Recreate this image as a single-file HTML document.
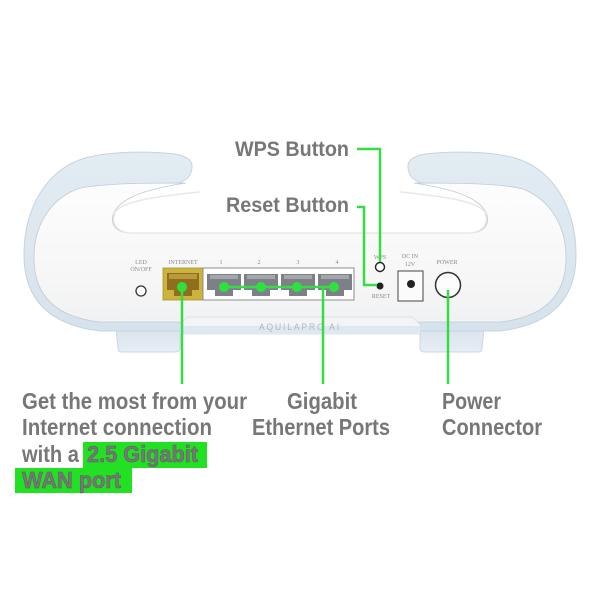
<!DOCTYPE html>
<html>
<head>
<meta charset="utf-8">
<style>
  html,body{margin:0;padding:0;background:#fff;}
  svg{display:block;}
  .lbl{font-family:"Liberation Sans",sans-serif;font-weight:bold;fill:#777;}
  .tiny{font-family:"Liberation Serif",serif;font-size:6px;fill:#8a8a8a;text-anchor:middle;}
</style>
</head>
<body>
<svg width="600" height="600" viewBox="0 0 600 600" xmlns="http://www.w3.org/2000/svg">
  <defs>
    <linearGradient id="face" x1="0" y1="0" x2="0" y2="1">
      <stop offset="0" stop-color="#fdfdfd"/>
      <stop offset="0.6" stop-color="#f7f7f7"/>
      <stop offset="1" stop-color="#f1f2f3"/>
    </linearGradient>
    <linearGradient id="blue" x1="0" y1="0" x2="0" y2="1">
      <stop offset="0" stop-color="#e3ecf3"/>
      <stop offset="1" stop-color="#d6e2ec"/>
    </linearGradient>
    <linearGradient id="foot" x1="0" y1="0" x2="0" y2="1">
      <stop offset="0" stop-color="#d9e4ed"/>
      <stop offset="1" stop-color="#e6edf3"/>
    </linearGradient>
  </defs>

  <rect width="600" height="600" fill="#fff"/>

  <!-- feet -->
  <path d="M116,328 L180,328 L180,348 Q180,352 175,352 L122,352 Q118,352 118,348 Z" fill="url(#foot)" stroke="#cbd7e1" stroke-width="1"/>
  <path d="M420,328 L484,328 L482,348 Q482,352 478,352 L425,352 Q420,352 420,348 Z" fill="url(#foot)" stroke="#cbd7e1" stroke-width="1"/>

  <!-- outer blue silhouette -->
  <path d="M192,168 C193,160 186,156 175,154 C150,151 110,151 85,158 C45,170 24,210 24,255 C24,300 50,325 100,331 L500,331 C550,325 576,300 576,255 C576,210 555,170 515,158 C490,151 450,151 425,154 C414,156 407,160 408,168 C409,176 414,181 422,183 C460,190 482,200 487,215 C490,228 480,233 470,233 L130,233 C120,233 110,228 113,215 C118,200 140,190 178,183 C186,181 191,176 192,168 Z"
        fill="url(#blue)" stroke="#c6d3de" stroke-width="1"/>

  <!-- white face -->
  <path d="M186,183 C150,183 100,183 77,189 C50,200 34,225 34,258 C34,295 55,317 100,322 L500,322 C545,317 566,295 566,258 C566,225 550,200 523,189 C500,183 450,183 414,183 C460,190 482,200 487,215 C490,228 480,233 470,233 L130,233 C120,233 110,228 113,215 C118,200 140,190 186,183 Z"
        fill="url(#face)" stroke="#bfcbd5" stroke-width="0.8"/>
  <!-- cavity shading -->
  <path d="M200,192 C160,196 125,200 115,212 C110,226 120,233 132,233 L468,233 C480,233 490,226 485,212 C475,200 440,196 400,192" fill="none" stroke="#e8e8e8" stroke-width="1.5"/>

  <!-- bottom plate -->
  <path d="M180,324 L188,317 L412,317 L420,324 L420,334 L180,334 Z" fill="#f2f4f6" stroke="#d3dce3" stroke-width="0.8"/>
  <rect x="181" y="326" width="238" height="8" fill="#dfe8f0"/>
  <text x="300" y="330" text-anchor="middle" font-family="Liberation Sans, sans-serif" font-size="9" letter-spacing="2" fill="#aeb7bf" textLength="82" lengthAdjust="spacingAndGlyphs">AQUILAPRO AI</text>

  <!-- tiny labels -->
  <text class="tiny" x="141" y="264">LED</text>
  <text class="tiny" x="141" y="271">ON/OFF</text>
  <text class="tiny" x="183" y="264">INTERNET</text>
  <text class="tiny" x="221" y="264">1</text>
  <text class="tiny" x="259" y="264">2</text>
  <text class="tiny" x="298" y="264">3</text>
  <text class="tiny" x="337" y="264">4</text>
  <text class="tiny" x="380" y="259">WPS</text>
  <text class="tiny" x="381" y="298">RESET</text>
  <text class="tiny" x="410" y="258">DC IN</text>
  <text class="tiny" x="410" y="266">12V</text>
  <text class="tiny" x="447" y="264">POWER</text>

  <!-- LED button -->
  <circle cx="141" cy="291" r="5" fill="#fff" stroke="#333" stroke-width="1.3"/>

  <!-- internet port -->
  <rect x="163" y="268" width="40" height="32" fill="#cbb33d" stroke="#a89230" stroke-width="0.8"/>
  <path d="M167,273 L199,273 L199,290 L192,290 L192,296 L174,296 L174,290 L167,290 Z" fill="#8f6f1f"/>
  <rect x="169" y="274" width="28" height="5" fill="#b89a3a"/>

  <!-- ethernet block -->
  <rect x="203" y="268" width="151" height="32" fill="#fff" stroke="#8c8c8c" stroke-width="1"/>
  <g fill="#7d8187">
    <path d="M207,274 L241,274 L241,290 L233,290 L233,296 L215,296 L215,290 L207,290 Z"/>
    <path d="M244,274 L278,274 L278,290 L270,290 L270,296 L252,296 L252,290 L244,290 Z"/>
    <path d="M281,274 L315,274 L315,290 L307,290 L307,296 L289,296 L289,290 L281,290 Z"/>
    <path d="M318,274 L352,274 L352,290 L344,290 L344,296 L326,296 L326,290 L318,290 Z"/>
  </g>
  <g fill="#a3a7ab">
    <rect x="210" y="275" width="28" height="4"/>
    <rect x="247" y="275" width="28" height="4"/>
    <rect x="284" y="275" width="28" height="4"/>
    <rect x="321" y="275" width="28" height="4"/>
  </g>

  <!-- WPS / reset / DC / power -->
  <circle cx="380" cy="267" r="4.5" fill="#fff" stroke="#222" stroke-width="1.4"/>
  <circle cx="380" cy="286" r="3.5" fill="#222"/>
  <rect x="398" y="271" width="25" height="30" fill="#fbfbfb" stroke="#444" stroke-width="1"/>
  <circle cx="411" cy="284" r="4" fill="#222"/>
  <circle cx="448" cy="285" r="12.5" fill="#fdfdfd" stroke="#333" stroke-width="1.5"/>

  <!-- green connectors -->
  <g stroke="#35dd45" stroke-width="2.5" fill="none">
    <polyline points="357,149 380,149 380,262"/>
    <polyline points="357,207 364,207 364,285 377,285"/>
    <line x1="182" y1="287" x2="182" y2="384"/>
    <line x1="224" y1="287" x2="334" y2="287"/>
    <line x1="323" y1="287" x2="323" y2="384"/>
    <line x1="448" y1="290" x2="448" y2="384"/>
  </g>
  <g fill="#2fe03f">
    <circle cx="182" cy="287" r="5"/>
    <circle cx="224" cy="287" r="5"/>
    <circle cx="261" cy="287" r="5"/>
    <circle cx="297" cy="287" r="5"/>
    <circle cx="334" cy="287" r="5"/>
  </g>

  <!-- top labels -->
  <text class="lbl" x="235" y="156" font-size="21" textLength="114" lengthAdjust="spacingAndGlyphs">WPS Button</text>
  <text class="lbl" x="226" y="212" font-size="21" textLength="123" lengthAdjust="spacingAndGlyphs">Reset Button</text>

  <!-- highlight boxes -->
  <rect x="83" y="442" width="124" height="26" fill="#22e022"/>
  <rect x="15" y="468" width="117" height="25" fill="#22e022"/>

  <!-- bottom labels -->
  <text class="lbl" x="22" y="409" font-size="23" textLength="225" lengthAdjust="spacingAndGlyphs">Get the most from your</text>
  <text class="lbl" x="22" y="435" font-size="23" textLength="190" lengthAdjust="spacingAndGlyphs">Internet connection</text>
  <text class="lbl" x="22" y="462" font-size="23" textLength="57" lengthAdjust="spacingAndGlyphs">with a</text>
  <text class="lbl" x="87" y="462" font-size="23" textLength="111" lengthAdjust="spacingAndGlyphs" stroke="#5f5f5f" stroke-width="0.6">2.5 Gigabit</text>
  <text class="lbl" x="22" y="488" font-size="23" textLength="99" lengthAdjust="spacingAndGlyphs" stroke="#5f5f5f" stroke-width="0.6">WAN port</text>

  <text class="lbl" x="287" y="409" font-size="23" textLength="70" lengthAdjust="spacingAndGlyphs">Gigabit</text>
  <text class="lbl" x="252" y="435" font-size="23" textLength="138" lengthAdjust="spacingAndGlyphs">Ethernet Ports</text>

  <text class="lbl" x="442" y="409" font-size="23" textLength="59" lengthAdjust="spacingAndGlyphs">Power</text>
  <text class="lbl" x="442" y="435" font-size="23" textLength="100" lengthAdjust="spacingAndGlyphs">Connector</text>
</svg>
</body>
</html>
